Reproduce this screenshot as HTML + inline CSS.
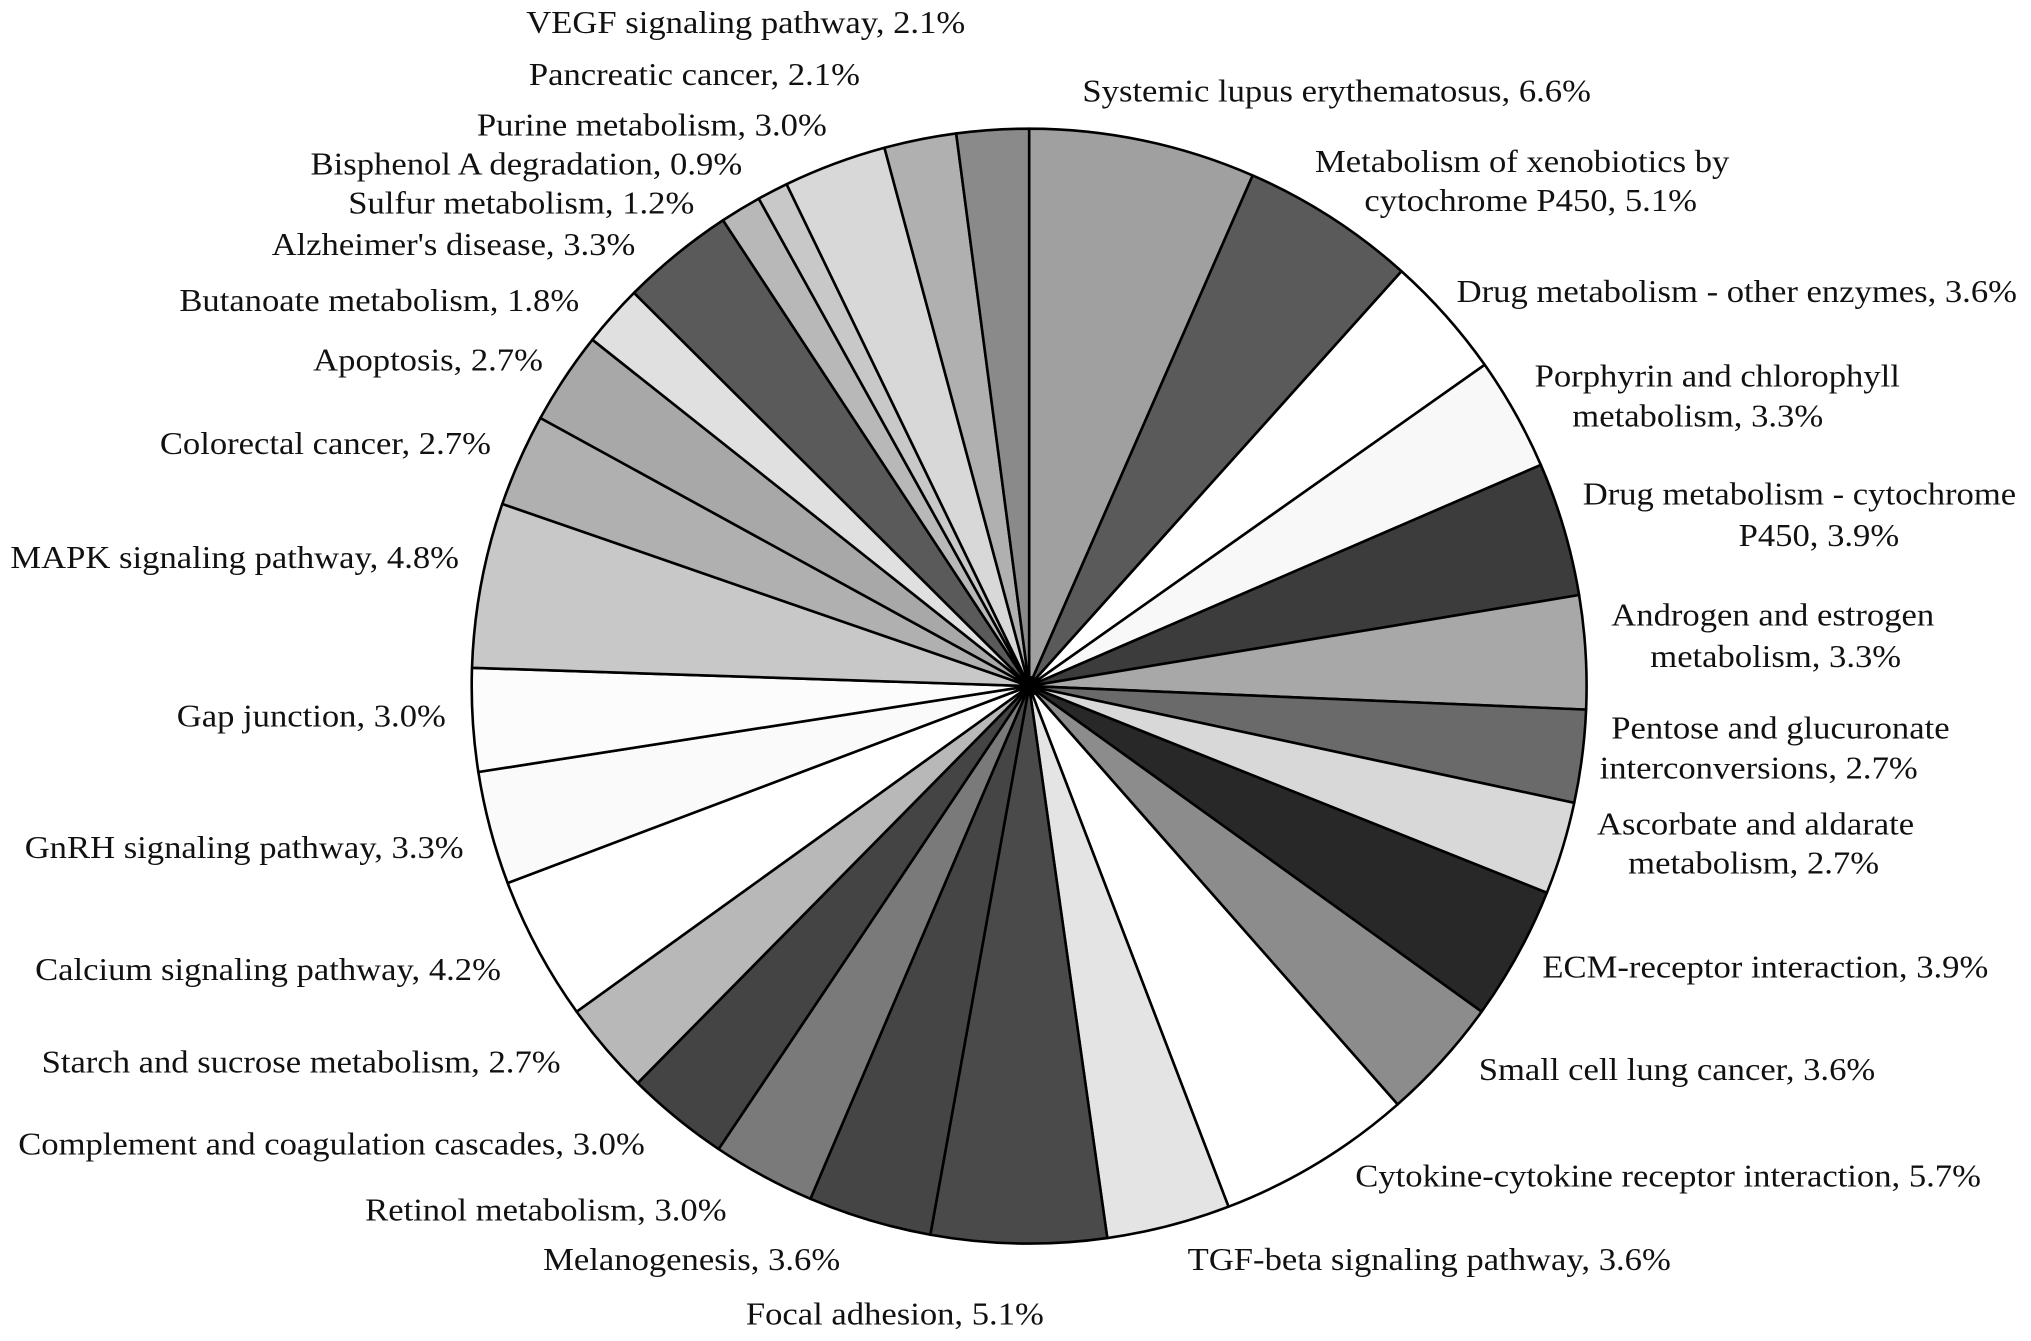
<!DOCTYPE html>
<html><head><meta charset="utf-8"><style>
html,body{margin:0;padding:0;background:#fff;}
svg{display:block;}
text{font-family:"Liberation Serif",serif;font-size:24px;fill:#111;dominant-baseline:central;}
</style></head><body>
<svg id="chart" width="2031" height="1341" viewBox="0 0 1563 1032" preserveAspectRatio="none" xmlns="http://www.w3.org/2000/svg">
<g id="slices"></g>
<g id="labels"></g>
</svg>
<script>
const categories = ["Systemic lupus erythematosus","Metabolism of xenobiotics by cytochrome P450","Drug metabolism - other enzymes","Porphyrin and chlorophyll metabolism","Drug metabolism - cytochrome P450","Androgen and estrogen metabolism","Pentose and glucuronate interconversions","Ascorbate and aldarate metabolism","ECM-receptor interaction","Small cell lung cancer","Cytokine-cytokine receptor interaction","TGF-beta signaling pathway","Focal adhesion","Melanogenesis","Retinol metabolism","Complement and coagulation cascades","Starch and sucrose metabolism","Calcium signaling pathway","GnRH signaling pathway","Gap junction","MAPK signaling pathway","Colorectal cancer","Apoptosis","Butanoate metabolism","Alzheimer's disease","Sulfur metabolism","Bisphenol A degradation","Purine metabolism","Pancreatic cancer","VEGF signaling pathway"];
const values = [6.6,5.1,3.6,3.3,3.9,3.3,2.7,2.7,3.9,3.6,5.7,3.6,5.1,3.6,3.0,3.0,2.7,4.2,3.3,3.0,4.8,2.7,2.7,1.8,3.3,1.2,0.9,3.0,2.1,2.1];
const colors = ["#a0a0a0","#5a5a5a","#ffffff","#f8f8f8","#3c3c3c","#a8a8a8","#6a6a6a","#d8d8d8","#282828","#8c8c8c","#ffffff","#e4e4e4","#4a4a4a","#454545","#7a7a7a","#444444","#b8b8b8","#ffffff","#fafafa","#fcfcfc","#c8c8c8","#b0b0b0","#a8a8a8","#e0e0e0","#5a5a5a","#b8b8b8","#c8c8c8","#d8d8d8","#b0b0b0","#8a8a8a"];
const labelLines = [
["Systemic lupus erythematosus, 6.6%",833,71],
["Metabolism of xenobiotics by",1012,125],["cytochrome P450, 5.1%",1050,155],
["Drug metabolism - other enzymes, 3.6%",1121,225],
["Porphyrin and chlorophyll",1181,290],["metabolism, 3.3%",1210,321],
["Drug metabolism - cytochrome",1218,381],["P450, 3.9%",1338,413],
["Androgen and estrogen",1240,474],["metabolism, 3.3%",1270,506],
["Pentose and glucuronate",1240,561],["interconversions, 2.7%",1231,592],
["Ascorbate and aldarate",1229,635],["metabolism, 2.7%",1253,665],
["ECM-receptor interaction, 3.9%",1187,745],
["Small cell lung cancer, 3.6%",1138,824],
["Cytokine-cytokine receptor interaction, 5.7%",1043,906],
["TGF-beta signaling pathway, 3.6%",914,970],
["Focal adhesion, 5.1%",574,1012],
["Melanogenesis, 3.6%",418,970],
["Retinol metabolism, 3.0%",281,932],
["Complement and coagulation cascades, 3.0%",14,881],
["Starch and sucrose metabolism, 2.7%",32,818],
["Calcium signaling pathway, 4.2%",27,747],
["GnRH signaling pathway, 3.3%",19,653],
["Gap junction, 3.0%",136,552],
["MAPK signaling pathway, 4.8%",8,430],
["Colorectal cancer, 2.7%",123,342],
["Apoptosis, 2.7%",241,278],
["Butanoate metabolism, 1.8%",138,232],
["Alzheimer's disease, 3.3%",209,189],
["Sulfur metabolism, 1.2%",268,157],
["Bisphenol A degradation, 0.9%",239,127],
["Purine metabolism, 3.0%",367,97],
["Pancreatic cancer, 2.1%",407,58],
["VEGF signaling pathway, 2.1%",405,18]
];
const NS="http://www.w3.org/2000/svg";
const cx=792, cy=528, r=429;
const total=values.reduce((a,b)=>a+b,0);
const gS=document.getElementById('slices');
let a0=0;
function pt(a){return [cx+r*Math.sin(a), cy-r*Math.cos(a)];}
values.forEach((v,i)=>{
  const a1=a0+v/total*2*Math.PI;
  const p0=pt(a0), p1=pt(a1);
  const large=(a1-a0)>Math.PI?1:0;
  const p=document.createElementNS(NS,'path');
  p.setAttribute('d',`M${cx},${cy} L${p0[0]},${p0[1]} A${r},${r} 0 ${large} 1 ${p1[0]},${p1[1]} Z`);
  p.setAttribute('fill',colors[i]);
  p.setAttribute('stroke','#000');
  p.setAttribute('stroke-width','2');
  p.setAttribute('stroke-linejoin','round');
  
  
  gS.appendChild(p);
  a0=a1;
});
const c=document.createElementNS(NS,'circle');
c.setAttribute('cx',cx);c.setAttribute('cy',cy);c.setAttribute('r',8);c.setAttribute('fill','#000');


gS.appendChild(c);
const gL=document.getElementById('labels');
labelLines.forEach(l=>{
  const t=document.createElementNS(NS,'text');
  t.setAttribute('x',0);t.setAttribute('y',0);
  t.setAttribute('transform',`translate(${l[1]},${l[2]}) scale(1.11,1)`);
  t.textContent=l[0];
  
  
  gL.appendChild(t);
});
</script>
</body></html>
